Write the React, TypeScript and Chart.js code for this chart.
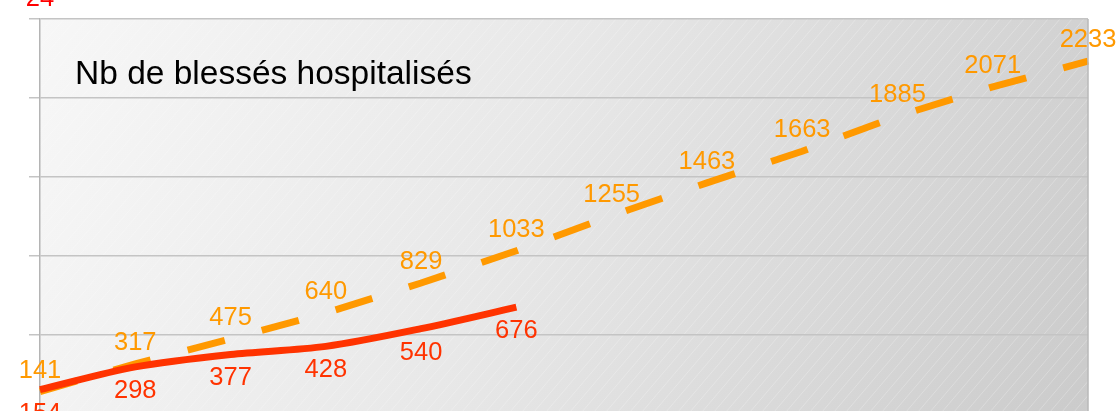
import React, { useEffect, useRef } from "react";
import { Chart, registerables } from "chart.js";

Chart.register(...registerables);

const categories = ["1", "2", "3", "4", "5", "6", "7", "8", "9", "10", "11", "12"];
const seriesRed = [154, 298, 377, 428, 540, 676, null, null, null, null, null, null];
const seriesOrange = [141, 317, 475, 640, 829, 1033, 1255, 1463, 1663, 1885, 2071, 2233];
const topLabel = "24";
const titleText = "Nb de blessés hospitalisés";
const yMin = 0;
const yMax = 2500;
const yStep = 500;

const RED = "#ff3300";
const ORANGE = "#ff9900";
const FONT = "'Liberation Sans', Arial, sans-serif";

const backgroundPlugin = {
  id: "bgPlugin",
  beforeDraw(chart: any) {
    const { ctx, chartArea } = chart;
    const { left, top, right, bottom } = chartArea;
    ctx.save();
    const g = ctx.createLinearGradient(left, top, right, bottom);
    g.addColorStop(0, "#f7f7f7");
    g.addColorStop(0.45, "#e8e8e8");
    g.addColorStop(1, "#cbcbcb");
    ctx.fillStyle = g;
    ctx.fillRect(left, top, right - left, bottom - top);
    ctx.beginPath();
    ctx.rect(left, top, right - left, bottom - top);
    ctx.clip();
    ctx.strokeStyle = "rgba(255,255,255,0.25)";
    ctx.lineWidth = 1;
    const h = bottom - top;
    const dx = h * 0.85;
    for (let x = left - dx; x < right + 12; x += 12) {
      ctx.beginPath();
      ctx.moveTo(x, bottom);
      ctx.lineTo(x + dx, top);
      ctx.stroke();
    }
    ctx.restore();
  },
  afterDraw(chart: any) {
    const { ctx, chartArea } = chart;
    ctx.save();
    ctx.strokeStyle = "#b8b8b8";
    ctx.lineWidth = 1.5;
    ctx.beginPath();
    ctx.moveTo(chartArea.right, chartArea.top);
    ctx.lineTo(chartArea.right, chartArea.bottom);
    ctx.stroke();
    ctx.restore();
  },
};

const labelsPlugin = {
  id: "labelsPlugin",
  afterDatasetsDraw(chart: any) {
    const { ctx, chartArea } = chart;
    ctx.save();
    ctx.font = `25.5px ${FONT}`;
    ctx.textAlign = "center";
    ctx.textBaseline = "alphabetic";
    chart.data.datasets.forEach((ds: any, di: number) => {
      const meta = chart.getDatasetMeta(di);
      meta.data.forEach((pt: any, i: number) => {
        const v = ds.data[i];
        if (v === null || v === undefined) return;
        ctx.fillStyle = ds.borderColor;
        const y = ds.labelPos === "below" ? pt.y + 31 : pt.y - 14;
        ctx.fillText(String(v), pt.x, y);
      });
    });
    // title inside plot
    ctx.fillStyle = "#000000";
    ctx.textAlign = "left";
    ctx.font = `33.5px ${FONT}`;
    ctx.fillText(titleText, chartArea.left + 35, chartArea.top + 65);
    // partial label at top
    ctx.fillStyle = "#ff0000";
    ctx.textAlign = "center";
    ctx.font = `25.5px ${FONT}`;
    ctx.fillText(topLabel, chartArea.left, chartArea.top - 13);
    ctx.restore();
  },
};

export default function App() {
  const ref = useRef<HTMLCanvasElement | null>(null);
  useEffect(() => {
    if (!ref.current) return;
    const chart = new Chart(ref.current, {
      type: "line",
      data: {
        labels: categories,
        datasets: [
          {
            label: "red",
            data: seriesRed,
            borderColor: RED,
            borderWidth: 7,
            tension: 0.3,
            pointRadius: 0,
            fill: false,
            spanGaps: false,
            labelPos: "below",
          } as any,
          {
            label: "orange",
            data: seriesOrange,
            borderColor: ORANGE,
            borderWidth: 7,
            borderDash: [38.4, 38.3],
            borderCapStyle: "butt",
            tension: 0,
            pointRadius: 0,
            fill: false,
            labelPos: "above",
          } as any,
        ],
      },
      options: {
        responsive: false,
        animation: false,
        devicePixelRatio: 1,
        layout: { padding: { top: 19, right: 30, bottom: 46, left: 0 } },
        plugins: {
          legend: { display: false },
          title: { display: false },
          tooltip: { enabled: false },
        },
        scales: {
          x: { display: false, offset: false },
          y: {
            min: yMin,
            max: yMax,
            ticks: { stepSize: yStep, display: false },
            grid: { color: "#c4c4c4", lineWidth: 1.5, tickLength: 11, drawTicks: true },
            border: { display: true, color: "#b4b4b4", width: 1.5 },
            afterFit: (s: any) => {
              s.width = 40;
            },
          },
        },
      },
      plugins: [backgroundPlugin, labelsPlugin],
    } as any);
    return () => chart.destroy();
  }, []);
  return (
    <div style={{ position: "fixed", top: 0, left: 0, width: 1118, height: 411, overflow: "hidden", background: "#fff" }}>
      <canvas ref={ref} width={1118} height={460} style={{ display: "block" }} />
    </div>
  );
}
